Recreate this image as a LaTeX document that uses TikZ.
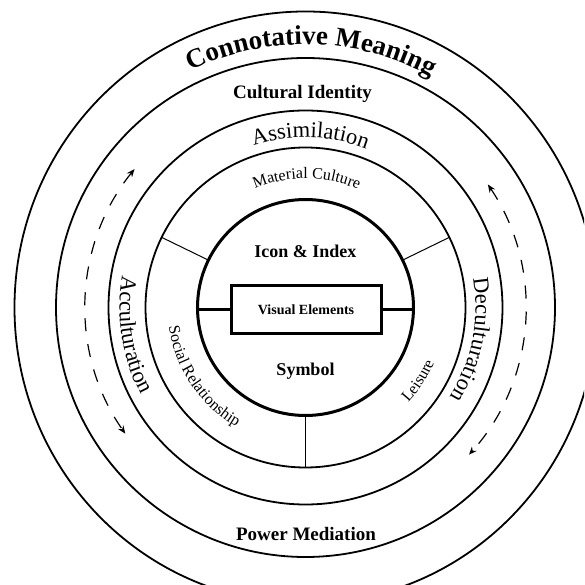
\documentclass[tikz,border=0pt]{standalone}
\usepackage{fontspec}
\setmainfont{Liberation Serif}
\usetikzlibrary{decorations.text,arrows.meta}
\begin{document}
\begin{tikzpicture}[x=1pt,y=1pt,
  ring/.style={line width=1.8pt},
  thickring/.style={line width=3pt},
  divider/.style={line width=1pt},
  flow/.style={line width=1.2pt, dash pattern=on 13pt off 13pt,
    {Stealth[length=8pt,width=6.5pt]}-{Stealth[length=8pt,width=6.5pt]}},
  curved/.style={decorate, decoration={text along path, text align=center, text={#1}}},
  flatlabel/.style={font=\bfseries\fontsize{19}{22}\selectfont, inner sep=0pt, anchor=base},
  corelabel/.style={font=\bfseries\fontsize{18}{21}\selectfont, inner sep=0pt, anchor=base},
]
\useasboundingbox (-305.5,-277.5) rectangle (278.5,307.5);
\clip (-305.5,-277.5) rectangle (278.5,307.5);

% rings
\draw[ring] (0,0) ellipse[x radius=291pt, y radius=296pt];
\draw[ring] (0,0) circle[radius=249.5pt];
\draw[ring] (0,0) circle[radius=197pt];
\draw[ring] (0,0) circle[radius=160pt];
\node[draw, circle, thickring, minimum size=216pt, inner sep=0pt] (core) at (0,0) {};

% dividers of the inner ring
\coordinate (d1) at (26:160pt);
\coordinate (d2) at (154:160pt);
\coordinate (d3) at (270:160pt);
\coordinate (c1) at (26:108pt);
\coordinate (c2) at (154:108pt);
\coordinate (c3) at (270:108pt);
\draw[divider] (c1) -- (d1);
\draw[divider] (c2) -- (d2);
\draw[divider] (c3) -- (d3);

% centre
\node[draw, thickring, minimum width=150pt, minimum height=48pt, inner sep=0pt,
      font=\bfseries\fontsize{14}{16}\selectfont] (ve) at (0.5,-2.5) {Visual Elements};
\coordinate (cl) at (180:108pt);
\coordinate (cr) at (0:108pt);
\draw[thickring] (ve.west) -- (cl |- ve.west);
\draw[thickring] (ve.east) -- (cr |- ve.east);
\node[corelabel] (icon) at (0,49.5) {Icon \& Index};
\node[corelabel] (sym) at (0,-68.5) {Symbol};

% straight labels
\node[flatlabel] (ci) at (-3,208.5) {Cultural Identity};
\node[flatlabel] (pm) at (0.5,-232.5) {Power Mediation};

% curved labels
\path[curved={|\bfseries\fontsize{27}{30}\selectfont|Connotative Meaning}]
  (135:263pt) arc[start angle=135, end angle=42.4, radius=263pt];
\path[curved={|\fontsize{22.5}{26}\selectfont|Assimilation}]
  (128.4:170pt) arc[start angle=128.4, end angle=48.4, radius=170pt];
\path[curved={|\fontsize{16}{19}\selectfont|Material Culture}]
  (130:129pt) arc[start angle=130, end angle=49, radius=129pt];
\path[curved={|\fontsize{22.5}{26}\selectfont|Acculturation}]
  (150:186pt) arc[start angle=150, end angle=228, radius=186pt];
\path[curved={|\fontsize{22.5}{26}\selectfont|Deculturation}]
  (28:170pt) arc[start angle=28, end angle=-50, radius=170pt];
\path[curved={|\fontsize{16}{19}\selectfont|Social Relationship}]
  (170:138pt) arc[start angle=170, end angle=258, radius=138pt];
\path[curved={|\fontsize{16}{19}\selectfont|Leisure}]
  (-63:140pt) arc[start angle=-63, end angle=-3, radius=140pt];

% flows
\coordinate (fl) at (141:220pt);
\coordinate (fr) at (34:220pt);
\draw[flow] (fl) arc[start angle=141, end angle=215, radius=220pt];
\draw[flow] (fr) arc[start angle=34, end angle=-42, radius=220pt];
\end{tikzpicture}
\end{document}
